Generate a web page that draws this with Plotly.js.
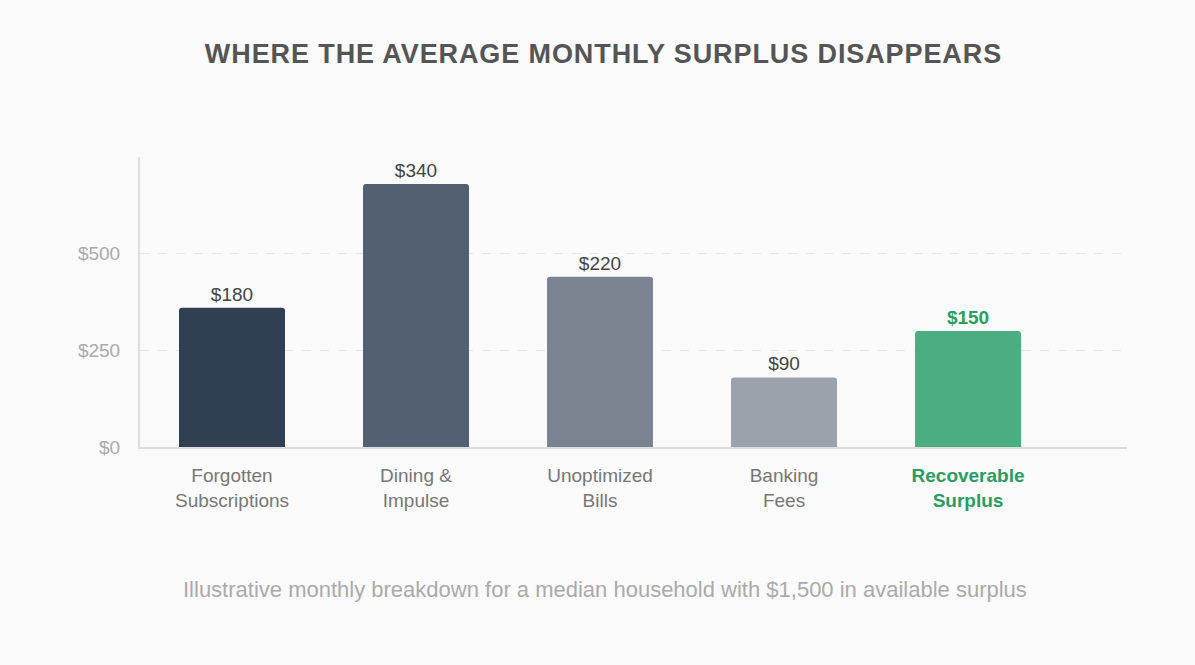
<!DOCTYPE html>
<html>
<head>
<meta charset="utf-8">
<script src="https://cdn.plot.ly/plotly-3.0.1.min.js"></script>
<style>
html,body{margin:0;padding:0;background:#fafafa;}
#chart{width:1195px;height:665px;}
.gtitle{letter-spacing:0.9px;}
</style>
</head>
<body>
<div id="chart"></div>
<script>
const categories = ["Forgotten<br>Subscriptions", "Dining &<br>Impulse", "Unoptimized<br>Bills", "Banking<br>Fees", "Recoverable<br>Surplus"];
const values = [180, 340, 220, 90, 150];
const valueLabels = ["$180", "$340", "$220", "$90", "<b>$150</b>"];
const barColors = ["#303f51", "#536071", "#7a838f", "#9ba2ab", "#4bad82"];
const yTickVals = [0, 125, 250];
const yTickText = ["$0", "$250", "$500"];
const xTickText = ["Forgotten<br>Subscriptions", "Dining &<br>Impulse", "Unoptimized<br>Bills", "Banking<br>Fees",
  "<span style='color:#2a9d61'><b>Recoverable<br>Surplus</b></span>"];

const trace = {
  type: "bar",
  x: [0, 1, 2, 3, 4],
  y: values,
  width: 0.576,
  marker: {color: barColors, cornerradius: 3},
  text: valueLabels,
  textposition: "outside",
  textfont: {family: "Liberation Sans, Arial, sans-serif", size: 19, color: ["#444", "#444", "#444", "#444", "#2a9d61"]},
  cliponaxis: false,
  hoverinfo: "none"
};

const layout = {
  width: 1195, height: 665,
  paper_bgcolor: "#fafafa", plot_bgcolor: "#fafafa",
  margin: {l: 140, r: 68, t: 157, b: 218},
  showlegend: false,
  font: {family: "Liberation Sans, Arial, sans-serif"},
  title: {
    text: "<b>WHERE THE AVERAGE MONTHLY SURPLUS DISAPPEARS</b>",
    font: {family: "Liberation Sans, Arial, sans-serif", size: 27, color: "#555"},
    x: 0.505, xanchor: "center", y: 0.92, yanchor: "middle"
  },
  xaxis: {
    range: [-0.5, 4.864],
    tickvals: [0, 1, 2, 3, 4],
    ticktext: xTickText,
    tickfont: {size: 19, color: "#777"},
    showline: true, linecolor: "#dddddd", linewidth: 2,
    showgrid: false, zeroline: false, ticks: "", ticklabelstandoff: 10, fixedrange: true
  },
  yaxis: {
    range: [0, 375],
    tickvals: yTickVals,
    ticktext: yTickText,
    tickfont: {size: 19, color: "#aaa"},
    showline: true, linecolor: "#dddddd", linewidth: 2,
    showgrid: true, gridcolor: "#e6e6e6", griddash: "dash", gridwidth: 1.5,
    zeroline: false, ticks: "", ticklen: 0, ticklabelstandoff: 14, fixedrange: true
  },
  annotations: [{
    text: "Illustrative monthly breakdown for a median household with $1,500 in available surplus",
    xref: "paper", yref: "paper", x: 0.471, y: -0.49, xanchor: "center", yanchor: "middle",
    showarrow: false, font: {size: 22, color: "#aaa"}
  }]
};

Plotly.newPlot("chart", [trace], layout, {displayModeBar: false, staticPlot: true});
</script>
</body>
</html>
